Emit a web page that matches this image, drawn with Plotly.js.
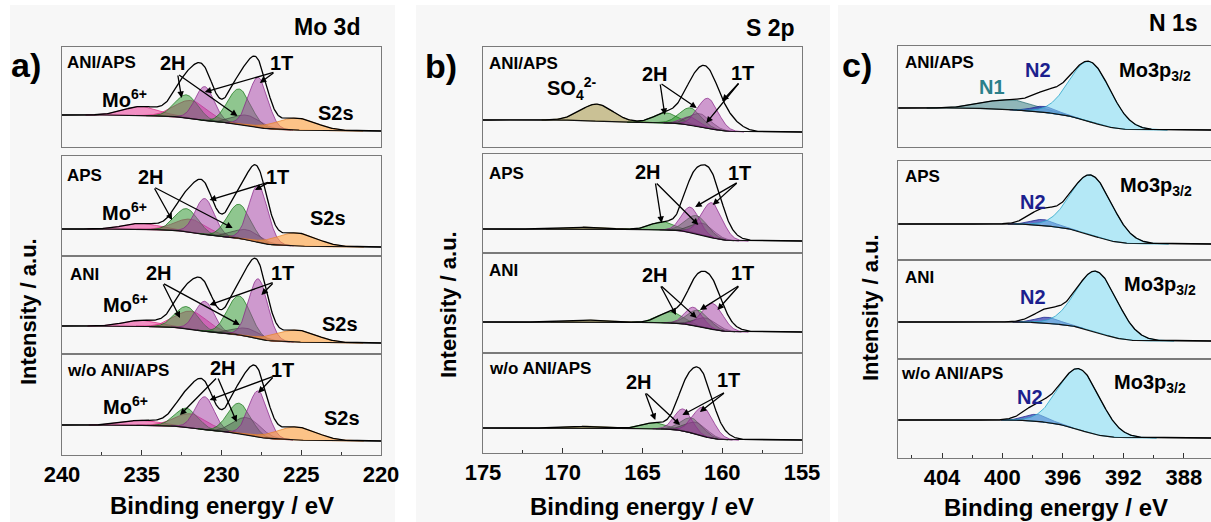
<!DOCTYPE html>
<html><head><meta charset="utf-8">
<script src="https://cdn.plot.ly/plotly-3.0.1.min.js"></script>
<style>html,body{margin:0;padding:0;background:#fff}#chart{width:1211px;height:522px}</style>
</head><body><div id="chart"></div>
<script>
// ================= DATA =================
const sampleNames = ["ANI/APS", "APS", "ANI", "w/o ANI/APS"];
const panelTitles = ["Mo 3d", "S 2p", "N 1s"];
const panelLetters = ["a)", "b)", "c)"];

// ---- Panel a: Mo 3d (peak centre eV, amplitude, FWHM eV) ----
const moTicks = [240, 235, 230, 225, 220];
const moCompColors = ["pink", "pink", "green", "magenta", "green", "gray", "magenta", "orange"];
const moCenters = [235.0, 231.9, 232.2, 231.05, 228.9, 228.4, 227.7, 225.3];
const moFwhm = [2.6, 2.4, 1.7, 1.4, 1.7, 2.0, 1.4, 3.0];
const moAmp_ANIAPS = [9, 18, 23, 34, 35, 10, 50, 12];
const moAmp_APS = [6, 13, 23, 36, 34, 10, 57, 13];
const moAmp_ANI = [6, 18, 22, 30, 39, 8, 60, 12];
const moAmp_wo = [5, 14, 19, 33, 30, 17, 46, 13];
const moBgHigh = [32, 27, 28, 30];
const moBgLow = [16, 9, 11, 14];

// ---- Panel b: S 2p ----
const sTicks = [175, 170, 165, 160, 155];
const sCompColors = ["olive", "green", "green", "magenta", "gray", "magenta"];
const sFwhm = [2.4, 1.8, 1.6, 1.3, 1.6, 1.5];
const sCenters_ANIAPS = [167.85, 163.5, 162.0, 162.0, 161.4, 160.9];
const sAmp_ANIAPS = [17, 10, 17, 8, 13, 30];
const sCenters_APS = [168.3, 163.7, 161.6, 162.0, 161.2, 160.65];
const sAmp_APS = [2, 8, 18, 25, 12, 35];
const sCenters_ANI = [168.0, 163.2, 161.5, 161.8, 161.0, 160.6];
const sAmp_ANI = [2, 11, 16, 18, 10, 26];
const sCenters_wo = [168.2, 164.2, 161.9, 162.45, 161.6, 161.2];
const sAmp_wo = [2, 6, 15, 22, 12, 29];
const sExtraCenter = [160.2, 160.5, 160.3, 161.0];   // unshaded part of the measured envelope
const sExtraAmp = [20, 14, 8, 14];
const sExtraFwhm = [2.2, 2.2, 2.2, 2.2];
const sBgHigh = [27, 24, 31, 25];
const sBgLow = [15, 12, 21, 13];

// ---- Panel c: N 1s ----
const nTicks = [404, 400, 396, 392, 388];
const nCompColors = ["n1", "n2", "cyan"];
const nFwhm = [4.0, 1.8, 3.2];
const nCenters_ANIAPS = [399.5, 397.2, 394.2];
const nAmp_ANIAPS = [10, 6, 60];
const nCenters_APS = [399.5, 397.3, 394.1];
const nAmp_APS = [0, 6, 60];
const nCenters_ANI = [399.5, 397.0, 393.75];
const nAmp_ANI = [0, 6, 61];
const nCenters_wo = [399.5, 397.7, 394.9];
const nAmp_wo = [0, 7, 61];
const nExtraCenter = [397.0, 397.5, 397.2, 398.0];
const nExtraAmp = [7, 8, 6, 5];
const nExtraFwhm = [2.4, 2.2, 2.2, 2.0];
const nBgHigh = [39, 36, 37, 38];
const nBgLow = [17, 16, 18, 20];

// ================= LAYOUT / STYLE =================
const W = 1211, H = 522;
const FONT = 'Liberation Sans, Arial, sans-serif';
const panelXpx = [[62, 381], [483, 802], [898, 1211]];
const panelYpx = [
  [[47, 147], [156, 256], [256, 354], [354, 455]],
  [[47, 147], [154, 253], [253, 353], [353, 453]],
  [[46, 147], [161, 260], [260, 359], [359, 458]]
];
const panelRanges = [[240, 220], [175, 155], [406.91, 386.21]];
const panelTicks = [moTicks, sTicks, nTicks];
const panelMinor = [2.5, 2.5, 2];

const compStyle = {
  pink:    {fill: 'rgba(238,60,155,0.55)', line: 'rgba(215,40,130,0.9)'},
  green:   {fill: 'rgba(40,150,40,0.5)',   line: 'rgba(20,115,20,0.9)'},
  magenta: {fill: 'rgba(165,60,165,0.5)',  line: 'rgba(135,35,135,0.9)'},
  gray:    {fill: 'rgba(60,60,60,0.35)',   line: 'rgba(50,50,50,0.7)'},
  orange:  {fill: 'rgba(255,160,60,0.6)',  line: 'rgba(230,130,40,0.9)'},
  olive:   {fill: 'rgba(165,150,70,0.55)', line: 'rgba(125,115,45,0.9)'},
  n1:      {fill: 'rgba(60,130,135,0.55)', line: 'rgba(40,110,115,0.9)'},
  n2:      {fill: 'rgba(30,40,170,0.65)',  line: 'rgba(20,30,140,0.9)'},
  cyan:    {fill: 'rgba(125,220,245,0.55)', line: 'rgba(40,165,200,1)'}
};

const moLabels = [
  {name: [239.8, 84], h2: [233.05, 84], t1: [226.25, 84], mo: [236.1, 49], s2s: [222.85, 34],
   h2Tail: [232.75, 73], h2Heads: [[232.5, 49], [229.0, 31]], t1Tail: [226.65, 75], t1Heads: [[231.05, 55], [227.6, 64]]},
  {name: [239.8, 81], h2: [234.45, 79], t1: [226.5, 79], mo: [236.1, 45], s2s: [223.3, 38],
   h2Tail: [234.25, 69], h2Heads: [[233.1, 36], [229.3, 28]], t1Tail: [227.0, 74], t1Heads: [[230.75, 56], [227.9, 66]]},
  {name: [239.6, 80], h2: [233.9, 81], t1: [226.2, 81], mo: [236.0, 51], s2s: [222.6, 30],
   h2Tail: [233.7, 71], h2Heads: [[232.6, 36], [228.85, 29]], t1Tail: [226.7, 72], t1Heads: [[230.75, 49], [227.5, 59]]},
  {name: [239.8, 85], h2: [229.9, 87], t1: [226.2, 85], mo: [236.0, 50], s2s: [222.45, 37],
   h2Tail: [230.25, 78], h2Heads: [[232.6, 40], [229.05, 33]], t1Tail: [226.7, 79], t1Heads: [[230.75, 55], [227.7, 62]]}
];
const sLabels = [
  {name: [174.75, 83], h2: [164.2, 73], t1: [158.7, 74], so4: [171.1, 59],
   h2Tail: [163.9, 64], h2Heads: [[163.6, 32], [161.6, 39]], t1Tail: [158.9, 65], t1Heads: [[160.0, 46], [161.0, 24]]},
  {name: [174.75, 80], h2: [164.65, 81], t1: [158.9, 80],
   h2Tail: [164.2, 71], h2Heads: [[163.8, 30], [161.5, 28]], t1Tail: [159.0, 71], t1Heads: [[161.7, 46], [160.6, 48]]},
  {name: [174.75, 83], h2: [164.2, 78], t1: [158.7, 80],
   h2Tail: [163.9, 68], h2Heads: [[162.9, 38], [161.6, 35]], t1Tail: [158.9, 68], t1Heads: [[161.4, 43], [160.3, 43]]},
  {name: [174.75, 85], h2: [165.2, 71], t1: [159.6, 73],
   h2Tail: [164.85, 61], h2Heads: [[164.2, 33], [162.65, 28]], t1Tail: [159.8, 61], t1Heads: [[162.5, 38], [161.4, 41]]}
];
const nLabels = [
  {name: [406.6, 84], n1: [400.7, 60], n2: [397.65, 77], mo: [392.4, 75]},
  {name: [406.6, 83], n2: [398.0, 58], mo: [392.35, 73]},
  {name: [406.6, 82], n2: [398.0, 62], mo: [392.1, 74]},
  {name: [406.85, 85], n2: [398.2, 61], mo: [392.75, 75]}
];

// ================= BUILD =================
const panelData = [
  {centers: [moCenters, moCenters, moCenters, moCenters], amps: [moAmp_ANIAPS, moAmp_APS, moAmp_ANI, moAmp_wo],
   fwhm: moFwhm, colors: moCompColors, exC: null, exA: null, exW: null, hi: moBgHigh, lo: moBgLow},
  {centers: [sCenters_ANIAPS, sCenters_APS, sCenters_ANI, sCenters_wo], amps: [sAmp_ANIAPS, sAmp_APS, sAmp_ANI, sAmp_wo],
   fwhm: sFwhm, colors: sCompColors, exC: sExtraCenter, exA: sExtraAmp, exW: sExtraFwhm, hi: sBgHigh, lo: sBgLow},
  {centers: [nCenters_ANIAPS, nCenters_APS, nCenters_ANI, nCenters_wo], amps: [nAmp_ANIAPS, nAmp_APS, nAmp_ANI, nAmp_wo],
   fwhm: nFwhm, colors: nCompColors, exC: nExtraCenter, exA: nExtraAmp, exW: nExtraFwhm, hi: nBgHigh, lo: nBgLow}
];

function gauss(x, c, a, w) { const d = (x - c) / w; return a * Math.exp(-2.772588722 * d * d); }

const traces = [];
const layout = {
  width: W, height: H, margin: {l: 0, r: 0, t: 0, b: 0},
  paper_bgcolor: '#ffffff', plot_bgcolor: '#fafafa', showlegend: false,
  font: {family: FONT, color: '#000'},
  annotations: [], shapes: []
};
const px2x = p => p / W;
const py2y = p => 1 - p / H;

// light grey figure backgrounds
[[10, 395], [416, 830], [838, 1211]].forEach(r => {
  layout.shapes.push({type: 'rect', xref: 'paper', yref: 'paper', x0: px2x(r[0]), x1: px2x(r[1]), y0: 0, y1: py2y(5),
    fillcolor: '#f7f7f7', line: {width: 0}, layer: 'below'});
});

function txt(xa, ya, pos, text, size, opts) {
  const o = opts || {};
  layout.annotations.push({xref: xa, yref: ya, x: pos[0], y: pos[1], text: text, showarrow: false,
    xanchor: o.xanchor || 'center', yanchor: 'middle',
    font: {family: FONT, size: size, color: o.color || '#000', weight: 'bold'}});
}
function arrow(xa, ya, tail, head) {
  layout.annotations.push({xref: xa, yref: ya, axref: xa, ayref: ya, x: head[0], y: head[1], ax: tail[0], ay: tail[1],
    text: '', showarrow: true, arrowhead: 2, arrowsize: 1, arrowwidth: 1.3, arrowcolor: '#000', standoff: 0, startstandoff: 0});
}

for (let p = 0; p < 3; p++) {
  const pd = panelData[p];
  const range = panelRanges[p];
  const lo = Math.min(range[0], range[1]), hi = Math.max(range[0], range[1]);
  const dx = 0.04;
  const xs = [];
  for (let i = 0; lo + i * dx <= hi + 1e-9; i++) xs.push(+(lo + i * dx).toFixed(3));
  for (let s = 0; s < 4; s++) {
    const k = p * 4 + s;
    const xa = k === 0 ? 'x' : 'x' + (k + 1);
    const ya = k === 0 ? 'y' : 'y' + (k + 1);
    const xk = k === 0 ? 'xaxis' : 'xaxis' + (k + 1);
    const yk = k === 0 ? 'yaxis' : 'yaxis' + (k + 1);
    const [top, bot] = panelYpx[p][s];
    const isBottom = s === 3;

    const comps = [];
    pd.centers[s].forEach((c, j) => {
      const a = pd.amps[s][j];
      if (a > 0) comps.push({ys: xs.map(x => gauss(x, c, a, pd.fwhm[j])), color: pd.colors[j]});
    });
    const total = xs.map((x, i) => {
      let v = 0; comps.forEach(cp => v += cp.ys[i]);
      if (pd.exC) v += gauss(x, pd.exC[s], pd.exA[s], pd.exW[s]);
      return v;
    });
    // Shirley-type background from the integrated intensity
    const cum = [0];
    for (let i = 1; i < xs.length; i++) cum.push(cum[i - 1] + (total[i] + total[i - 1]) / 2 * dx);
    const tot = cum[cum.length - 1];
    const bg = cum.map(v => pd.lo[s] + (pd.hi[s] - pd.lo[s]) * v / tot);

    comps.forEach(cp => {
      const idx = [];
      cp.ys.forEach((v, i) => { if (v > 0.05) idx.push(i); });
      if (!idx.length) return;
      const fx = idx.map(i => xs[i]), fy = idx.map(i => bg[i] + cp.ys[i]);
      const rx = idx.slice().reverse().map(i => xs[i]), ry = idx.slice().reverse().map(i => bg[i]);
      const st = compStyle[cp.color];
      traces.push({x: fx.concat(rx), y: fy.concat(ry), xaxis: xa, yaxis: ya, type: 'scatter', mode: 'lines',
        fill: 'toself', fillcolor: st.fill, line: {color: st.line, width: 0.8}, hoverinfo: 'skip'});
    });
    traces.push({x: xs, y: bg, xaxis: xa, yaxis: ya, type: 'scatter', mode: 'lines',
      line: {color: '#111', width: 1.2}, hoverinfo: 'skip'});
    traces.push({x: xs, y: xs.map((x, i) => bg[i] + total[i]), xaxis: xa, yaxis: ya, type: 'scatter', mode: 'lines',
      line: {color: '#000', width: 1.3}, hoverinfo: 'skip'});

    layout[xk] = {
      domain: [px2x(panelXpx[p][0]), Math.min(1, px2x(panelXpx[p][1]))], range: range, anchor: ya,
      showline: true, mirror: true, linecolor: '#7a7a7a', linewidth: 1, showgrid: false, zeroline: false,
      fixedrange: true,
      ticks: isBottom ? 'inside' : '', ticklen: 5, tickcolor: '#333', tickwidth: 1,
      tickmode: 'array', tickvals: panelTicks[p], ticktext: panelTicks[p].map(String),
      showticklabels: isBottom,
      tickfont: {family: FONT, size: 22, color: '#000', weight: 'bold'}
    };
    if (isBottom) layout[xk].minor = {ticks: 'inside', ticklen: 3, tickcolor: '#333', dtick: panelMinor[p], tick0: 0};
    layout[yk] = {
      domain: [py2y(bot), py2y(top)], range: [0, bot - top], anchor: xa,
      showline: true, mirror: p < 2, linecolor: '#7a7a7a', linewidth: 1, showgrid: false, zeroline: false,
      ticks: '', showticklabels: false, fixedrange: true
    };

    if (p === 0) {
      const L = moLabels[s];
      txt(xa, ya, L.name, sampleNames[s], 17, {xanchor: 'left'});
      txt(xa, ya, L.h2, '2H', 20);
      txt(xa, ya, L.t1, '1T', 20);
      txt(xa, ya, L.mo, 'Mo<sup>6+</sup>', 20);
      txt(xa, ya, L.s2s, 'S2s', 20);
      L.h2Heads.forEach(h => arrow(xa, ya, L.h2Tail, h));
      L.t1Heads.forEach(h => arrow(xa, ya, L.t1Tail, h));
    } else if (p === 1) {
      const L = sLabels[s];
      txt(xa, ya, L.name, sampleNames[s], 17, {xanchor: 'left'});
      txt(xa, ya, L.h2, '2H', 20);
      txt(xa, ya, L.t1, '1T', 20);
      if (L.so4) txt(xa, ya, L.so4, 'SO<sub>4</sub><sup>2-</sup>', 20, {xanchor: 'left'});
      L.h2Heads.forEach(h => arrow(xa, ya, L.h2Tail, h));
      L.t1Heads.forEach(h => arrow(xa, ya, L.t1Tail, h));
    } else {
      const L = nLabels[s];
      txt(xa, ya, L.name, sampleNames[s], 17, {xanchor: 'left'});
      if (L.n1) txt(xa, ya, L.n1, 'N1', 20, {color: '#2b7f8a'});
      txt(xa, ya, L.n2, 'N2', 20, {color: '#1c1f8e'});
      txt(xa, ya, L.mo, 'Mo3p<sub>3/2</sub>', 20, {xanchor: 'left'});
    }
  }
}

const letterPos = [[26, 65], [441, 66], [857, 65]];
const titlePos = [[327, 27], [770, 28], [1173, 23]];
const yTitlePos = [[28, 312], [448, 305], [870, 308]];
const xTitlePos = [[222, 505], [642, 506], [1056, 507]];
for (let p = 0; p < 3; p++) {
  layout.annotations.push({xref: 'paper', yref: 'paper', x: px2x(letterPos[p][0]), y: py2y(letterPos[p][1]),
    text: panelLetters[p], showarrow: false, xanchor: 'center', yanchor: 'middle',
    font: {family: FONT, size: 34, weight: 'bold', color: '#000'}});
  layout.annotations.push({xref: 'paper', yref: 'paper', x: px2x(titlePos[p][0]), y: py2y(titlePos[p][1]),
    text: panelTitles[p], showarrow: false, xanchor: 'center', yanchor: 'middle',
    font: {family: FONT, size: 23, weight: 'bold', color: '#000'}});
  layout.annotations.push({xref: 'paper', yref: 'paper', x: px2x(yTitlePos[p][0]), y: py2y(yTitlePos[p][1]),
    text: 'Intensity / a.u.', textangle: -90, showarrow: false, xanchor: 'center', yanchor: 'middle',
    font: {family: FONT, size: 22, weight: 'bold', color: '#000'}});
  layout.annotations.push({xref: 'paper', yref: 'paper', x: px2x(xTitlePos[p][0]), y: py2y(xTitlePos[p][1]),
    text: 'Binding energy / eV', showarrow: false, xanchor: 'center', yanchor: 'middle',
    font: {family: FONT, size: 24, weight: 'bold', color: '#000'}});
}

Plotly.newPlot('chart', traces, layout, {staticPlot: true, displayModeBar: false});
</script>
</body></html>
